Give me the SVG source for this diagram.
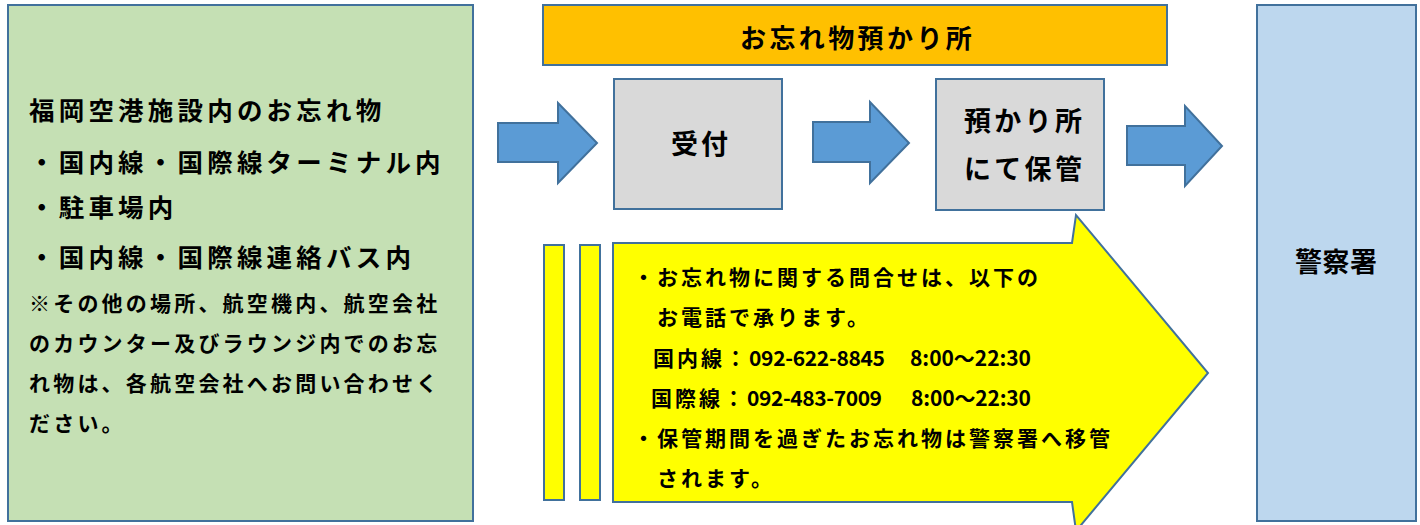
<svg xmlns="http://www.w3.org/2000/svg" width="1420" height="525" viewBox="0 0 1420 525">
<style>
.box{stroke:#41719C;stroke-width:2}
.t{font-family:"Noto Sans CJK JP","Noto Sans",sans-serif;font-weight:700;fill:#000}
.l{font-size:25.5px;letter-spacing:4.2px}
.s{font-size:21px;letter-spacing:3.2px}
.y{font-size:21px;letter-spacing:3px}
.arrow{fill:#5B9BD5;stroke:#41719C;stroke-width:2;stroke-linejoin:miter}
</style>
<rect width="1420" height="525" fill="#fff"/>
<g id="sources">
<rect class="box" x="8" y="5" width="465" height="516" fill="#C5E0B4"/>
<text class="t l" x="29" y="119.5">福岡空港施設内のお忘れ物</text>
<text class="t l" x="29" y="171.5">・国内線・国際線ターミナル内</text>
<text class="t l" x="29" y="217">・駐車場内</text>
<text class="t l" x="29" y="267">・国内線・国際線連絡バス内</text>
<text class="t s" x="29" y="310.5">※その他の場所、航空機内、航空会社</text>
<text class="t s" x="29" y="350.5">のカウンター及びラウンジ内でのお忘</text>
<text class="t s" x="29" y="390.5">れ物は、各航空会社へお問い合わせく</text>
<text class="t s" x="29" y="430.5">ださい。</text>
</g>
<g id="office-title">
<rect class="box" x="543" y="5" width="624" height="60" fill="#FFC000"/>
<text class="t" x="740" y="48" font-size="26" letter-spacing="3.4">お忘れ物預かり所</text>
</g>
<g id="reception">
<rect class="box" x="614" y="79" width="168" height="130" fill="#D9D9D9"/>
<text class="t" x="671" y="154" font-size="27" letter-spacing="3">受付</text>
</g>
<g id="storage">
<rect class="box" x="936" y="79" width="168" height="131" fill="#D9D9D9"/>
<text class="t" x="964" y="130.5" font-size="27" letter-spacing="3.3">預かり所</text>
<text class="t" x="964" y="179" font-size="27" letter-spacing="3.3">にて保管</text>
</g>
<g id="police">
<rect class="box" x="1257" y="5" width="159" height="516" fill="#BDD7EE"/>
<text class="t" x="1295" y="272" font-size="27" letter-spacing="0.5">警察署</text>
</g>
<g id="connectors">
<polygon class="arrow" points="498,123 558,123 558,103 597,143 558,183 558,162 498,162"/>
<polygon class="arrow" points="813,122 870,122 870,102 909,143 870,183 870,162 813,162"/>
<polygon class="arrow" points="1127,126 1185,126 1185,106 1222,146 1185,186 1185,165 1127,165"/>
</g>
<g id="notice">
<rect class="box" x="544" y="245" width="20" height="255" fill="#FFFF00"/>
<rect class="box" x="580" y="245" width="20" height="255" fill="#FFFF00"/>
<polygon class="box" fill="#FFFF00" points="613,243 1072,243 1076,215 1208,373 1076,531 1072,502 613,502"/>
<text class="t y" x="633" y="284.5">・お忘れ物に関する問合せは、以下の</text>
<text class="t y" x="657" y="324.5">お電話で承ります。</text>
<text class="t y" x="653" y="365.5">国内線：</text>
<text class="t" x="749" y="365.5" font-size="21" textLength="136" lengthAdjust="spacing">092-622-8845</text>
<text class="t" x="910" y="365.5" font-size="21" textLength="121" lengthAdjust="spacing">8:00～22:30</text>
<text class="t y" x="651" y="405.5">国際線：</text>
<text class="t" x="747" y="405.5" font-size="21" textLength="135" lengthAdjust="spacing">092-483-7009</text>
<text class="t" x="911" y="405.5" font-size="21" textLength="120" lengthAdjust="spacing">8:00～22:30</text>
<text class="t y" x="633" y="445.5">・保管期間を過ぎたお忘れ物は警察署へ移管</text>
<text class="t y" x="657" y="485.5">されます。</text>
</g>
</svg>
